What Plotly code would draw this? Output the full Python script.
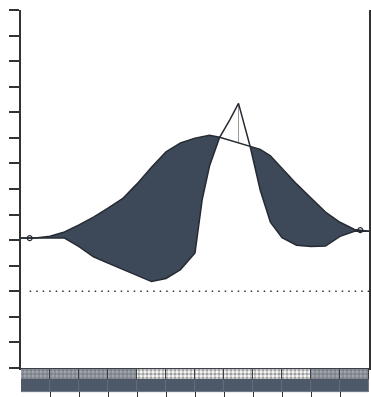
import numpy as np
import plotly.graph_objects as go

# ---- data ----
months = [0, 0.5, 1, 1.5, 2, 2.5, 3, 3.5, 4, 4.5, 5, 5.5, 6, 6.25, 6.5,
          6.85, 7.2, 7.5, 7.9, 8.25, 8.6, 9, 9.5, 10, 10.5, 11, 11.5, 12]
series_a = [5.08, 5.08, 5.15, 5.32, 5.6, 5.9, 6.25, 6.62, 7.2, 7.85, 8.45, 8.8,
            8.99, 9.05, 9.1, 9.02, 8.9, 8.8, 8.67, 8.55, 8.3, 7.8, 7.2, 6.65,
            6.1, 5.7, 5.42, 5.35]
series_b = [5.08, 5.08, 5.08, 5.08, 4.75, 4.35, 4.1, 3.85, 3.6, 3.38, 3.5, 3.85,
            4.5, 6.6, 7.9, 9.02, 9.7, 10.35, 8.67, 6.95, 5.7, 5.1, 4.8, 4.75,
            4.77, 5.15, 5.35, 5.35]
ref_level = 3
ref_x = [0.3, 12]
end_markers_x = [0.3, 11.7]
band_months = [0.5, 1.5, 2.5, 3.5, 4.5, 5.5, 6.5, 7.5, 8.5, 9.5, 10.5, 11.5]
band_kind = ["+", "+", "+", "+", ".", ".", ".", ".", ".", ".", "+", "+"]

x = np.array(months)
a = np.array(series_a)
b = np.array(series_b)
upper = np.maximum(a, b)

FILL = "#3d4859"
LINE = "#262b33"

fig = go.Figure()

# fill only where A is above B
fig.add_trace(go.Scatter(x=x, y=b, mode="lines", line=dict(width=0),
                         hoverinfo="skip", showlegend=False))
fig.add_trace(go.Scatter(x=x, y=upper, mode="lines", line=dict(width=0),
                         fill="tonexty", fillcolor=FILL,
                         hoverinfo="skip", showlegend=False))

# reference dotted line
fig.add_trace(go.Scatter(x=ref_x, y=[ref_level, ref_level], mode="lines",
                         line=dict(color="#333", width=1.5, dash="1.5px,5px"),
                         showlegend=False))

# drop line at the peak of B
ipk = int(np.argmax(b))
fig.add_trace(go.Scatter(x=[x[ipk], x[ipk]], y=[b[ipk], a[ipk]], mode="lines",
                         line=dict(color="#9a9a9a", width=1), showlegend=False))

# the two lines
fig.add_trace(go.Scatter(x=x, y=a, mode="lines", line=dict(color=LINE, width=1.5),
                         showlegend=False))
fig.add_trace(go.Scatter(x=x, y=b, mode="lines", line=dict(color=LINE, width=1.5),
                         showlegend=False))

# small end markers
fig.add_trace(go.Scatter(x=end_markers_x, y=np.interp(end_markers_x, x, a),
                         mode="markers",
                         marker=dict(symbol="circle-open", size=5, color=LINE,
                                     line=dict(width=1.2)),
                         showlegend=False))

# bottom band: patterned strip
fgc = ["#eef0f2" if k == "+" else "#59616c" for k in band_kind]
bgc = ["#9ea5ae" if k == "+" else "#ffffff" for k in band_kind]
sol = [0.4 if k == "+" else 0.6 for k in band_kind]
fig.add_trace(go.Bar(x=band_months, y=[11] * 12, base=[17] * 12, width=1,
                     xaxis="x2", yaxis="y2",
                     marker=dict(color=bgc,
                                 line=dict(color="#3a3f48", width=1),
                                 pattern=dict(shape=band_kind, fgcolor=fgc,
                                              bgcolor=bgc, size=4, solidity=sol,
                                              fillmode="overlay")),
                     showlegend=False, hoverinfo="skip"))
# bottom band: dark strip
fig.add_trace(go.Bar(x=band_months, y=[12] * 12, base=[5] * 12, width=1,
                     xaxis="x2", yaxis="y2",
                     marker=dict(color="#4d5869",
                                 line=dict(color="#5d687a", width=0.6)),
                     showlegend=False, hoverinfo="skip"))

H = 397
plot_h = H - 10
band_frac = 29 / plot_h

fig.update_layout(
    width=371, height=H,
    margin=dict(l=21, r=2, t=10, b=0, autoexpand=False),
    paper_bgcolor="white", plot_bgcolor="white",
    barmode="overlay", bargap=0,
    xaxis=dict(range=[0, 12], showgrid=False, zeroline=False,
               showticklabels=False, ticks="", showline=True,
               linecolor="#333", linewidth=1.5, anchor="y", automargin=False),
    yaxis=dict(range=[0, 14], dtick=1, tick0=0, showgrid=False, zeroline=False,
               showticklabels=False, ticks="outside", ticklen=10,
               tickcolor="#333", tickwidth=1.5, showline=True,
               linecolor="#333", linewidth=1.5, mirror="ticks",
               domain=[band_frac, 1], automargin=False),
    xaxis2=dict(range=[0, 12], matches="x", anchor="y2", showgrid=False,
                zeroline=False, showticklabels=False, ticks="inside",
                ticklen=5, dtick=1, tick0=0, tickcolor="#333", tickwidth=1.2,
                showline=False, automargin=False),
    yaxis2=dict(range=[0, 29], domain=[0, band_frac], showgrid=False,
                zeroline=False, showticklabels=False, ticks="", showline=False,
                automargin=False),
)

fig.write_html("out.html")
